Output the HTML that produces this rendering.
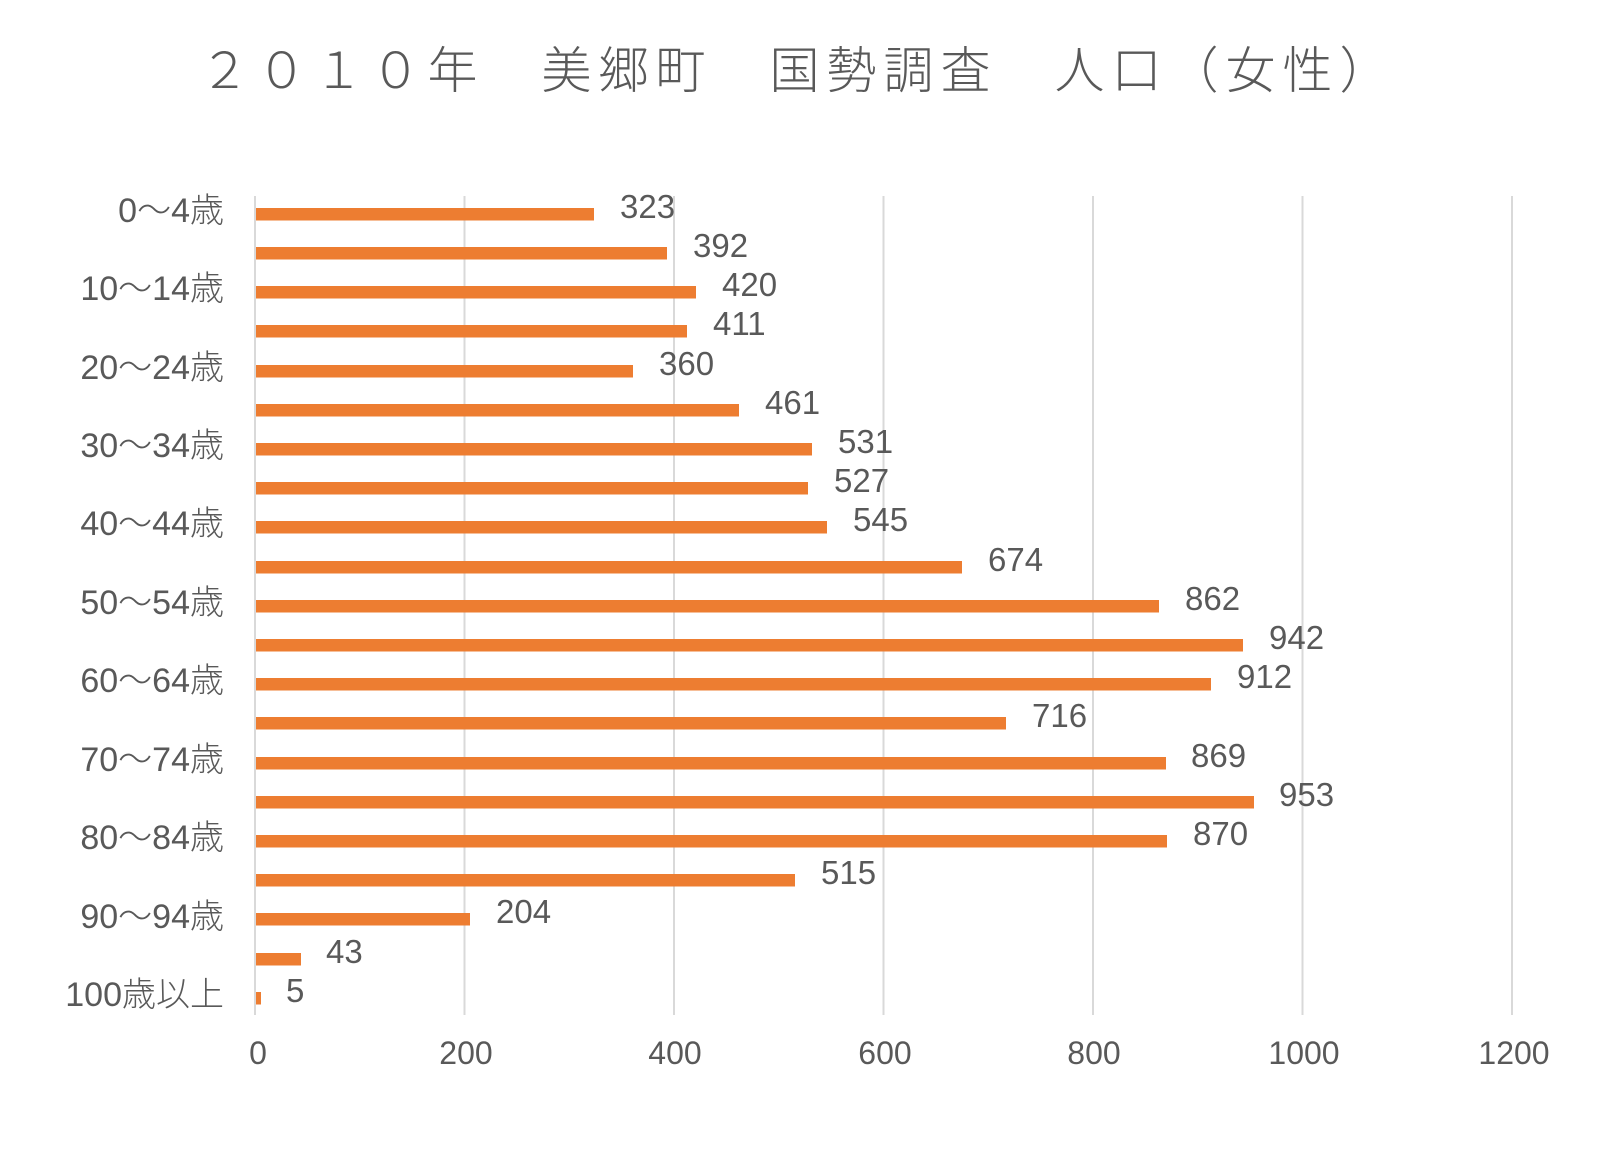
<!DOCTYPE html>
<html><head><meta charset="utf-8"><style>
html,body{margin:0;padding:0;background:#fff;}
svg text{font-family:"Liberation Sans","Noto Sans CJK JP",sans-serif;fill:#595959;}
</style></head><body>
<svg width="1600" height="1159" viewBox="0 0 1600 1159" xmlns="http://www.w3.org/2000/svg">
<rect width="1600" height="1159" fill="#fff"/>
<text x="798" y="88" font-size="50" text-anchor="middle" style="font-family:'Noto Sans CJK JP',sans-serif;font-weight:300" letter-spacing="7">２０１０年　美郷町　国勢調査　人口（女性）</text>
<g stroke="#d9d9d9" stroke-width="2">
<line x1="255" y1="196" x2="255" y2="1015"/>
<line x1="464.5" y1="196" x2="464.5" y2="1015"/>
<line x1="674" y1="196" x2="674" y2="1015"/>
<line x1="883.5" y1="196" x2="883.5" y2="1015"/>
<line x1="1093" y1="196" x2="1093" y2="1015"/>
<line x1="1302.5" y1="196" x2="1302.5" y2="1015"/>
<line x1="1512" y1="196" x2="1512" y2="1015"/>
</g>
<g font-size="32" text-anchor="middle">
<text x="258" y="1064">0</text><text x="466" y="1064">200</text><text x="675" y="1064">400</text><text x="885" y="1064">600</text><text x="1094" y="1064">800</text><text x="1304" y="1064">1000</text><text x="1514" y="1064">1200</text>
</g>
<g font-size="34" text-anchor="end" style="font-family:'Noto Sans CJK JP',sans-serif;font-weight:300">
<text x="224" y="222">0～4歳</text>
<text x="224" y="300">10～14歳</text>
<text x="224" y="379">20～24歳</text>
<text x="224" y="457">30～34歳</text>
<text x="224" y="535">40～44歳</text>
<text x="224" y="614">50～54歳</text>
<text x="224" y="692">60～64歳</text>
<text x="224" y="771">70～74歳</text>
<text x="224" y="849">80～84歳</text>
<text x="224" y="928">90～94歳</text>
<text x="224" y="1006">100歳以上</text>
</g>
<g fill="#ED7D31">
<rect x="256" y="208" width="338" height="12.5"/>
<rect x="256" y="247" width="411" height="12.5"/>
<rect x="256" y="286" width="440" height="12.5"/>
<rect x="256" y="325" width="431" height="12.5"/>
<rect x="256" y="365" width="377" height="12.5"/>
<rect x="256" y="404" width="483" height="12.5"/>
<rect x="256" y="443" width="556" height="12.5"/>
<rect x="256" y="482" width="552" height="12.5"/>
<rect x="256" y="521" width="571" height="12.5"/>
<rect x="256" y="561" width="706" height="12.5"/>
<rect x="256" y="600" width="903" height="12.5"/>
<rect x="256" y="639" width="987" height="12.5"/>
<rect x="256" y="678" width="955" height="12.5"/>
<rect x="256" y="717" width="750" height="12.5"/>
<rect x="256" y="757" width="910" height="12.5"/>
<rect x="256" y="796" width="998" height="12.5"/>
<rect x="256" y="835" width="911" height="12.5"/>
<rect x="256" y="874" width="539" height="12.5"/>
<rect x="256" y="913" width="214" height="12.5"/>
<rect x="256" y="953" width="45" height="12.5"/>
<rect x="256" y="992" width="5" height="12.5"/>
</g>
<g font-size="33">
<text x="620" y="218">323</text>
<text x="693" y="257">392</text>
<text x="722" y="296">420</text>
<text x="713" y="335">411</text>
<text x="659" y="375">360</text>
<text x="765" y="414">461</text>
<text x="838" y="453">531</text>
<text x="834" y="492">527</text>
<text x="853" y="531">545</text>
<text x="988" y="571">674</text>
<text x="1185" y="610">862</text>
<text x="1269" y="649">942</text>
<text x="1237" y="688">912</text>
<text x="1032" y="727">716</text>
<text x="1191" y="767">869</text>
<text x="1279" y="806">953</text>
<text x="1193" y="845">870</text>
<text x="821" y="884">515</text>
<text x="496" y="923">204</text>
<text x="326" y="963">43</text>
<text x="286" y="1002">5</text>
</g>
</svg>
</body></html>
